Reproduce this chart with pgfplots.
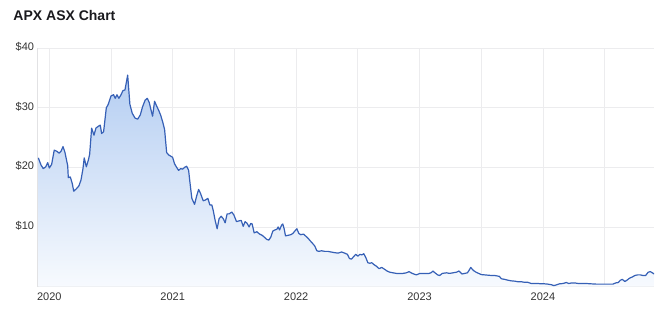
\documentclass[border=0pt]{standalone}
\usepackage{fontspec}
\setmainfont{Liberation Sans}
\usepackage{pgfplots}
\usepackage{pgfplotstable}
\pgfplotsset{compat=1.18}
\definecolor{lineblue}{RGB}{54,96,182}
\definecolor{filltop}{RGB}{181,206,242}
\definecolor{fillbot}{RGB}{247,250,254}
\definecolor{gridgray}{RGB}{236,236,238}
\definecolor{axisgray}{RGB}{226,226,228}
\definecolor{ticktext}{RGB}{51,51,51}
\definecolor{titletext}{RGB}{26,26,30}

\pgfplotstableread{
year price
2019.911 21.6
2019.933 20.4
2019.951 19.8
2019.971 20.1
2019.987 20.8
2020.000 19.9
2020.019 20.5
2020.040 22.9
2020.062 22.7
2020.079 22.4
2020.095 22.7
2020.111 23.5
2020.127 22.5
2020.149 20.3
2020.154 18.3
2020.170 18.4
2020.186 17.3
2020.198 16.0
2020.219 16.4
2020.240 16.9
2020.257 17.9
2020.273 19.8
2020.283 21.6
2020.300 20.1
2020.316 21.2
2020.327 22.2
2020.343 26.6
2020.362 25.4
2020.378 26.6
2020.397 26.9
2020.413 27.1
2020.424 25.7
2020.440 26.0
2020.462 30.0
2020.478 30.6
2020.500 32.0
2020.521 32.2
2020.534 31.6
2020.548 32.2
2020.564 31.6
2020.581 32.2
2020.597 32.9
2020.613 33.0
2020.635 35.5
2020.653 30.6
2020.672 29.1
2020.694 28.3
2020.716 28.1
2020.737 28.8
2020.756 30.2
2020.777 31.3
2020.794 31.6
2020.810 30.9
2020.821 29.9
2020.837 28.6
2020.853 31.1
2020.870 30.3
2020.886 29.6
2020.902 28.8
2020.918 27.7
2020.934 26.4
2020.951 22.5
2020.967 22.1
2020.983 21.9
2020.999 21.7
2021.015 20.6
2021.032 20.0
2021.048 19.5
2021.064 19.8
2021.080 19.7
2021.096 20.0
2021.113 20.2
2021.129 19.5
2021.139 17.6
2021.155 14.8
2021.177 13.8
2021.194 15.2
2021.210 16.3
2021.226 15.6
2021.247 14.4
2021.263 14.5
2021.285 14.8
2021.301 13.7
2021.317 13.7
2021.328 12.8
2021.344 11.1
2021.360 9.7
2021.376 11.4
2021.393 11.8
2021.409 11.4
2021.425 10.7
2021.441 12.2
2021.457 12.2
2021.479 12.5
2021.496 12.0
2021.517 10.9
2021.534 11.0
2021.555 11.1
2021.571 10.1
2021.587 10.9
2021.603 10.6
2021.619 10.0
2021.633 10.6
2021.644 10.5
2021.660 9.0
2021.682 9.2
2021.704 8.8
2021.725 8.6
2021.747 8.2
2021.763 7.9
2021.779 7.8
2021.795 8.3
2021.811 9.3
2021.828 9.5
2021.844 9.6
2021.854 10.0
2021.866 9.5
2021.882 10.3
2021.892 10.5
2021.903 9.7
2021.914 8.5
2021.935 8.6
2021.957 8.7
2021.973 8.9
2021.989 9.3
2022.006 9.7
2022.022 8.9
2022.038 8.7
2022.060 8.8
2022.076 8.5
2022.097 8.1
2022.113 7.7
2022.135 7.2
2022.151 6.8
2022.168 6.0
2022.184 5.9
2022.206 6.0
2022.232 5.9
2022.259 5.9
2022.281 5.8
2022.308 5.7
2022.340 5.6
2022.368 5.8
2022.394 5.6
2022.416 5.4
2022.432 4.7
2022.449 4.6
2022.465 5.0
2022.483 5.4
2022.500 5.1
2022.517 5.4
2022.532 5.3
2022.548 5.5
2022.564 4.9
2022.581 4.0
2022.597 3.9
2022.613 4.0
2022.629 3.7
2022.651 3.4
2022.672 3.0
2022.694 3.2
2022.716 2.9
2022.737 2.6
2022.759 2.4
2022.785 2.3
2022.813 2.2
2022.840 2.2
2022.866 2.2
2022.894 2.3
2022.915 2.5
2022.931 2.3
2022.953 2.1
2022.975 1.95
2022.991 2.1
2023.007 2.2
2023.028 2.2
2023.056 2.2
2023.077 2.2
2023.093 2.3
2023.109 2.6
2023.125 2.3
2023.147 1.95
2023.163 1.85
2023.185 2.2
2023.218 2.3
2023.244 2.2
2023.271 2.3
2023.299 2.4
2023.320 2.6
2023.344 2.1
2023.366 2.2
2023.388 2.3
2023.398 2.6
2023.415 3.2
2023.436 2.7
2023.458 2.4
2023.479 2.2
2023.501 2.0
2023.528 1.95
2023.555 1.9
2023.582 1.85
2023.609 1.85
2023.647 1.7
2023.663 1.3
2023.690 1.2
2023.717 1.05
2023.744 0.95
2023.771 0.9
2023.798 0.8
2023.825 0.8
2023.852 0.7
2023.878 0.7
2023.906 0.5
2023.933 0.5
2023.959 0.5
2023.987 0.45
2024.014 0.45
2024.040 0.4
2024.068 0.3
2024.089 0.15
2024.108 0.27
2024.135 0.45
2024.162 0.5
2024.189 0.67
2024.210 0.5
2024.232 0.6
2024.259 0.6
2024.287 0.5
2024.313 0.5
2024.352 0.5
2024.389 0.45
2024.432 0.4
2024.486 0.4
2024.540 0.4
2024.567 0.4
2024.589 0.6
2024.611 0.67
2024.627 1.05
2024.643 1.2
2024.664 0.84
2024.680 1.05
2024.702 1.4
2024.724 1.6
2024.745 1.85
2024.767 1.95
2024.789 1.95
2024.810 1.85
2024.832 1.85
2024.853 2.4
2024.870 2.5
2024.886 2.3
2024.902 2.1
}\pricedata

\begin{document}
\begin{tikzpicture}
\useasboundingbox (0,0) rectangle (671bp,-314bp);
\node[anchor=base west, inner sep=0pt, text=titletext, font=\fontsize{14bp}{16bp}\selectfont\bfseries] at (13.3bp,-20.7bp) {APX ASX Chart};
\begin{axis}[
  at={(37.7bp,-286.5bp)}, anchor=south west,
  scale only axis, width=616.3bp, height=238.2bp,
  xmin=2019.906, xmax=2024.9, ymin=0, ymax=40,
  axis lines*=left,
  axis line style={draw=axisgray, line width=0.8bp},
  major tick length=0pt, minor tick length=0pt,
  xtick={2020,2021,2022,2023,2024},
  xticklabels={2020,2021,2022,2023,2024},
  minor xtick={2020.5,2021.5,2022.5,2023.5,2024.5},
  ytick={10,20,30,40},
  yticklabels={\$10,\$20,\$30,\$40},
  grid=both,
  major grid style={draw=gridgray, line width=0.8bp},
  minor grid style={draw=gridgray, line width=0.8bp},
  tick label style={text=ticktext, font=\fontsize{11bp}{13bp}\selectfont},
  xticklabel style={anchor=base, inner sep=0pt, yshift=-13.5bp},
  yticklabel style={anchor=base east, inner sep=0pt, xshift=-3.4bp, yshift=-2.4bp},
  clip=true,
]
\addplot[draw=none, top color=filltop, bottom color=fillbot] table[x=year, y=price] {\pricedata} \closedcycle;
\addplot[draw=lineblue, line width=1.2bp, line join=round, mark=none] table[x=year, y=price] {\pricedata};
\end{axis}
\end{tikzpicture}
\end{document}
